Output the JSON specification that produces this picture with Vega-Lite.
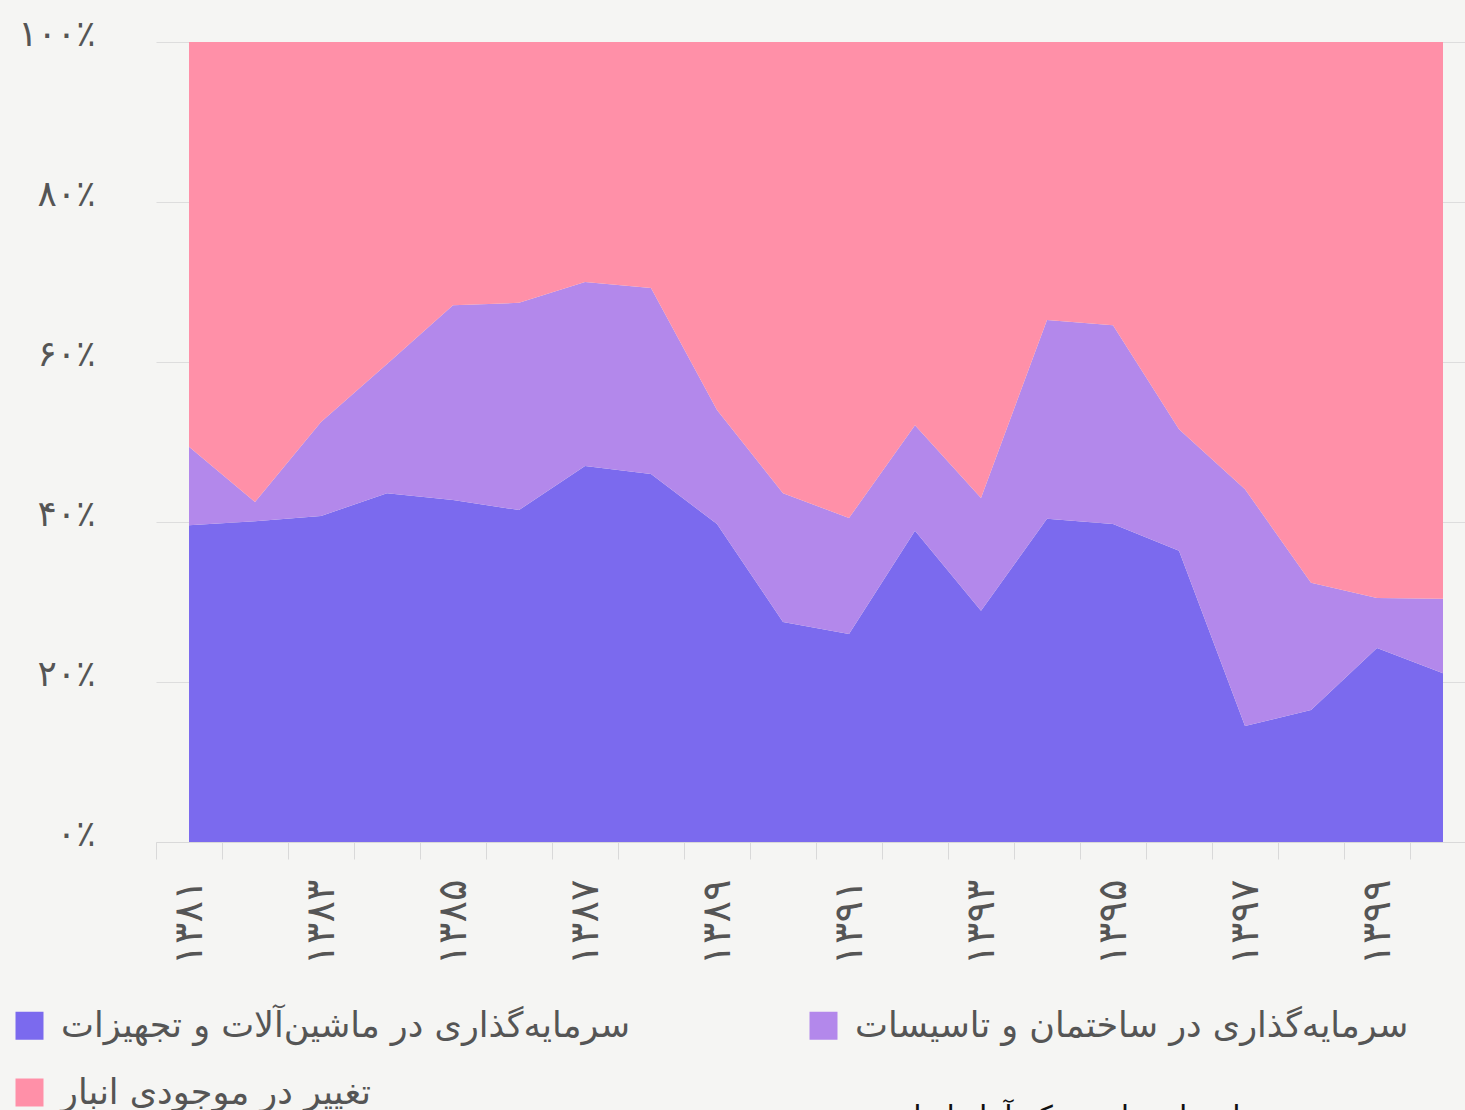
{
  "$schema": "https://vega.github.io/schema/vega-lite/v6.json",
  "width": 1309,
  "height": 800,
  "autosize": "none",
  "padding": {"left": 156, "top": 42, "right": 0, "bottom": 268},
  "background": "#F5F5F3",
  "config": {
    "view": {"stroke": null},
    "font": "DejaVu Sans"
  },
  "title": {
    "text": "منبع: حساب‌های ملی مرکز آمار ایران",
    "orient": "bottom",
    "anchor": "end",
    "fontSize": 30,
    "fontWeight": "normal",
    "color": "#111111",
    "font": "DejaVu Sans",
    "offset": -8,
    "dx": -120
  },
  "data": {
    "values": [
      {"year": 1381, "series": "سرمایه‌گذاری در ماشین‌آلات و تجهیزات", "value": 39.6},
      {"year": 1382, "series": "سرمایه‌گذاری در ماشین‌آلات و تجهیزات", "value": 40.1},
      {"year": 1383, "series": "سرمایه‌گذاری در ماشین‌آلات و تجهیزات", "value": 40.75},
      {"year": 1384, "series": "سرمایه‌گذاری در ماشین‌آلات و تجهیزات", "value": 43.6},
      {"year": 1385, "series": "سرمایه‌گذاری در ماشین‌آلات و تجهیزات", "value": 42.75},
      {"year": 1386, "series": "سرمایه‌گذاری در ماشین‌آلات و تجهیزات", "value": 41.5},
      {"year": 1387, "series": "سرمایه‌گذاری در ماشین‌آلات و تجهیزات", "value": 47.0},
      {"year": 1388, "series": "سرمایه‌گذاری در ماشین‌آلات و تجهیزات", "value": 46.0},
      {"year": 1389, "series": "سرمایه‌گذاری در ماشین‌آلات و تجهیزات", "value": 39.75},
      {"year": 1390, "series": "سرمایه‌گذاری در ماشین‌آلات و تجهیزات", "value": 27.5},
      {"year": 1391, "series": "سرمایه‌گذاری در ماشین‌آلات و تجهیزات", "value": 26.0},
      {"year": 1392, "series": "سرمایه‌گذاری در ماشین‌آلات و تجهیزات", "value": 38.9},
      {"year": 1393, "series": "سرمایه‌گذاری در ماشین‌آلات و تجهیزات", "value": 28.9},
      {"year": 1394, "series": "سرمایه‌گذاری در ماشین‌آلات و تجهیزات", "value": 40.4},
      {"year": 1395, "series": "سرمایه‌گذاری در ماشین‌آلات و تجهیزات", "value": 39.75},
      {"year": 1396, "series": "سرمایه‌گذاری در ماشین‌آلات و تجهیزات", "value": 36.4},
      {"year": 1397, "series": "سرمایه‌گذاری در ماشین‌آلات و تجهیزات", "value": 14.5},
      {"year": 1398, "series": "سرمایه‌گذاری در ماشین‌آلات و تجهیزات", "value": 16.5},
      {"year": 1399, "series": "سرمایه‌گذاری در ماشین‌آلات و تجهیزات", "value": 24.25},
      {"year": 1400, "series": "سرمایه‌گذاری در ماشین‌آلات و تجهیزات", "value": 21.1},
      {"year": 1381, "series": "سرمایه‌گذاری در ساختمان و تاسیسات", "value": 9.8},
      {"year": 1382, "series": "سرمایه‌گذاری در ساختمان و تاسیسات", "value": 2.4},
      {"year": 1383, "series": "سرمایه‌گذاری در ساختمان و تاسیسات", "value": 11.75},
      {"year": 1384, "series": "سرمایه‌گذاری در ساختمان و تاسیسات", "value": 16.15},
      {"year": 1385, "series": "سرمایه‌گذاری در ساختمان و تاسیسات", "value": 24.35},
      {"year": 1386, "series": "سرمایه‌گذاری در ساختمان و تاسیسات", "value": 25.9},
      {"year": 1387, "series": "سرمایه‌گذاری در ساختمان و تاسیسات", "value": 23.0},
      {"year": 1388, "series": "سرمایه‌گذاری در ساختمان و تاسیسات", "value": 23.25},
      {"year": 1389, "series": "سرمایه‌گذاری در ساختمان و تاسیسات", "value": 14.25},
      {"year": 1390, "series": "سرمایه‌گذاری در ساختمان و تاسیسات", "value": 16.1},
      {"year": 1391, "series": "سرمایه‌گذاری در ساختمان و تاسیسات", "value": 14.5},
      {"year": 1392, "series": "سرمایه‌گذاری در ساختمان و تاسیسات", "value": 13.2},
      {"year": 1393, "series": "سرمایه‌گذاری در ساختمان و تاسیسات", "value": 14.1},
      {"year": 1394, "series": "سرمایه‌گذاری در ساختمان و تاسیسات", "value": 24.85},
      {"year": 1395, "series": "سرمایه‌گذاری در ساختمان و تاسیسات", "value": 24.85},
      {"year": 1396, "series": "سرمایه‌گذاری در ساختمان و تاسیسات", "value": 15.2},
      {"year": 1397, "series": "سرمایه‌گذاری در ساختمان و تاسیسات", "value": 29.6},
      {"year": 1398, "series": "سرمایه‌گذاری در ساختمان و تاسیسات", "value": 15.9},
      {"year": 1399, "series": "سرمایه‌گذاری در ساختمان و تاسیسات", "value": 6.25},
      {"year": 1400, "series": "سرمایه‌گذاری در ساختمان و تاسیسات", "value": 9.3},
      {"year": 1381, "series": "تغییر در موجودی انبار", "value": 50.6},
      {"year": 1382, "series": "تغییر در موجودی انبار", "value": 57.5},
      {"year": 1383, "series": "تغییر در موجودی انبار", "value": 47.5},
      {"year": 1384, "series": "تغییر در موجودی انبار", "value": 40.25},
      {"year": 1385, "series": "تغییر در موجودی انبار", "value": 32.9},
      {"year": 1386, "series": "تغییر در موجودی انبار", "value": 32.6},
      {"year": 1387, "series": "تغییر در موجودی انبار", "value": 30.0},
      {"year": 1388, "series": "تغییر در موجودی انبار", "value": 30.75},
      {"year": 1389, "series": "تغییر در موجودی انبار", "value": 46.0},
      {"year": 1390, "series": "تغییر در موجودی انبار", "value": 56.4},
      {"year": 1391, "series": "تغییر در موجودی انبار", "value": 59.5},
      {"year": 1392, "series": "تغییر در موجودی انبار", "value": 47.9},
      {"year": 1393, "series": "تغییر در موجودی انبار", "value": 57.0},
      {"year": 1394, "series": "تغییر در موجودی انبار", "value": 34.75},
      {"year": 1395, "series": "تغییر در موجودی انبار", "value": 35.4},
      {"year": 1396, "series": "تغییر در موجودی انبار", "value": 48.4},
      {"year": 1397, "series": "تغییر در موجودی انبار", "value": 55.9},
      {"year": 1398, "series": "تغییر در موجودی انبار", "value": 67.6},
      {"year": 1399, "series": "تغییر در موجودی انبار", "value": 69.5},
      {"year": 1400, "series": "تغییر در موجودی انبار", "value": 69.6}
    ]
  },
  "mark": {"type": "area", "opacity": 1},
  "encoding": {
    "x": {
      "field": "year",
      "type": "ordinal",
      "bandPosition": 0.5,
      "scale": {"type": "band", "range": [0, 1320], "paddingInner": 0, "paddingOuter": 0},
      "axis": {
        "title": null,
        "tickBand": "extent",
        "labelAngle": 270,
        "labelFontSize": 40,
        "labelColor": "#555555",
        "labelPadding": 20,
        "tickSize": 17,
        "tickColor": "#d9d9d9",
        "domainColor": "#d9d9d9",
        "grid": false,
        "labelExpr": "datum.value % 2 == 1 ? ['۱۳۸۱','۱۳۸۳','۱۳۸۵','۱۳۸۷','۱۳۸۹','۱۳۹۱','۱۳۹۳','۱۳۹۵','۱۳۹۷','۱۳۹۹'][(datum.value - 1381) / 2] : ''"
      }
    },
    "y": {
      "field": "value",
      "type": "quantitative",
      "stack": "normalize",
      "axis": {
        "title": null,
        "values": [0, 0.2, 0.4, 0.6, 0.8, 1],
        "domain": false,
        "ticks": false,
        "grid": true,
        "gridColor": "#dddddd",
        "labelFontSize": 36,
        "labelColor": "#555555",
        "labelPadding": 61,
        "labelBaseline": "alphabetic",
        "labelOffset": 3,
        "labelExpr": "['۰٪','۲۰٪','۴۰٪','۶۰٪','۸۰٪','۱۰۰٪'][round(datum.value * 5)]"
      }
    },
    "order": {"field": "series", "sort": "descending"},
    "color": {
      "field": "series",
      "type": "nominal",
      "scale": {
        "domain": ["سرمایه‌گذاری در ماشین‌آلات و تجهیزات", "تغییر در موجودی انبار", "سرمایه‌گذاری در ساختمان و تاسیسات"],
        "range": ["#7B6AEE", "#FF90A8", "#B388EB"]
      },
      "legend": {
        "title": null,
        "orient": "none",
        "legendX": -144,
        "legendY": 966,
        "columns": 2,
        "columnPadding": 175,
        "rowPadding": 31,
        "symbolType": "square",
        "symbolSize": 784,
        "symbolStrokeWidth": 0,
        "symbolOpacity": 1,
        "labelFontSize": 35,
        "labelColor": "#555555",
        "labelOffset": 14,
        "labelLimit": 1000
      }
    }
  }
}
